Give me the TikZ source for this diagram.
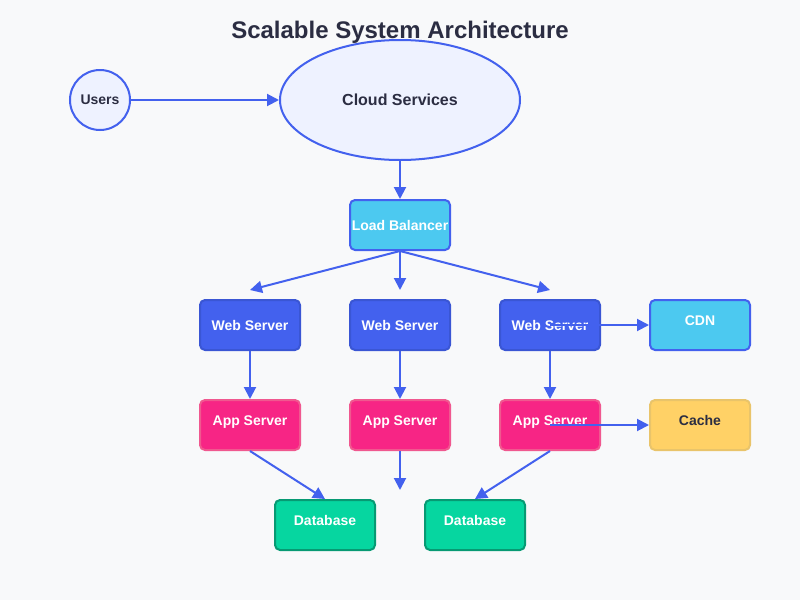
\documentclass[tikz,border=0pt]{standalone}
\usepackage{fontspec}
\setmainfont{Liberation Sans}
\usetikzlibrary{arrows.meta,shapes.geometric}

\definecolor{bgcol}{HTML}{F8F9FA}
\definecolor{inkcol}{HTML}{2B2D42}
\definecolor{linkcol}{HTML}{4361EE}
\definecolor{palecol}{HTML}{EEF2FF}
\definecolor{webcol}{HTML}{4361EE}
\definecolor{webedge}{HTML}{3A56D4}
\definecolor{skycol}{HTML}{4CC9F0}
\definecolor{appcol}{HTML}{F72585}
\definecolor{appedge}{HTML}{F0588F}
\definecolor{cachecol}{HTML}{FFD166}
\definecolor{cacheedge}{HTML}{E9C46A}
\definecolor{dbcol}{HTML}{06D6A0}
\definecolor{dbedge}{HTML}{079A73}

\begin{document}
\begin{tikzpicture}[x=0.75pt,y=-0.75pt,>={Triangle[length=9pt,width=9pt]},
        line width=1.5pt,
        box/.style={rectangle,rounded corners=3.75pt,draw,minimum width=75pt,minimum height=37.5pt,
          inner sep=0pt,text=white,font=\fontsize{10.5}{12}\selectfont\bfseries},
        raised/.style={text height=7pt,text depth=7pt},
        round node/.style={draw=linkcol,fill=palecol,text=inkcol,font=\fontsize{10.5}{12}\selectfont\bfseries}]

      \fill[bgcol] (0,0) rectangle (800,600);

      \node[text=inkcol,font=\fontsize{18}{22}\selectfont\bfseries] (title) at (400,32) {Scalable System Architecture};

      \node[round node,circle,minimum size=45pt,inner sep=0pt] (users) at (100,100) {Users};
      \node[round node,ellipse,minimum width=180pt,minimum height=90pt,
        font=\fontsize{12}{14}\selectfont\bfseries] (cloud) at (400,100) {Cloud Services};

      \node[box,fill=skycol,draw=linkcol] (lb) at (400,225) {Load Balancer};

      \node[box,fill=webcol,draw=webedge] (web1) at (250,325) {Web Server};
      \node[box,fill=webcol,draw=webedge] (web2) at (400,325) {Web Server};
      \node[box,fill=webcol,draw=webedge] (web3) at (550,325) {Web Server};
      \node[box,raised,fill=skycol,draw=linkcol] (cdn) at (700,325) {CDN};

      \node[box,raised,fill=appcol,draw=appedge] (app1) at (250,425) {App Server};
      \node[box,raised,fill=appcol,draw=appedge] (app2) at (400,425) {App Server};
      \node[box,raised,fill=appcol,draw=appedge] (app3) at (550,425) {App Server};
      \node[box,raised,fill=cachecol,draw=cacheedge,text=inkcol] (cache) at (700,425) {Cache};

      \node[box,raised,fill=dbcol,draw=dbedge] (db1) at (325,525) {Database};
      \node[box,raised,fill=dbcol,draw=dbedge] (db2) at (475,525) {Database};

      \coordinate (w1tip) at (250,290);
      \coordinate (w2tip) at (400,290);
      \coordinate (w3tip) at (550,290);
      \coordinate (a2tip) at (400,490);

      \path[->,linkcol]
      (users) edge (cloud)
      (cloud) edge (lb)
      (lb.south) edge (w1tip)
      (lb.south) edge (w2tip)
      (lb.south) edge (w3tip)
      (web1) edge (app1)
      (web2) edge (app2)
      (web3) edge (app3)
      (web3.center) edge (cdn.west)
      (app3.center) edge (cache.west)
      (app1.south) edge (db1.north)
      (app2.south) edge (a2tip)
      (app3.south) edge (db2.north);
\end{tikzpicture}
\end{document}
